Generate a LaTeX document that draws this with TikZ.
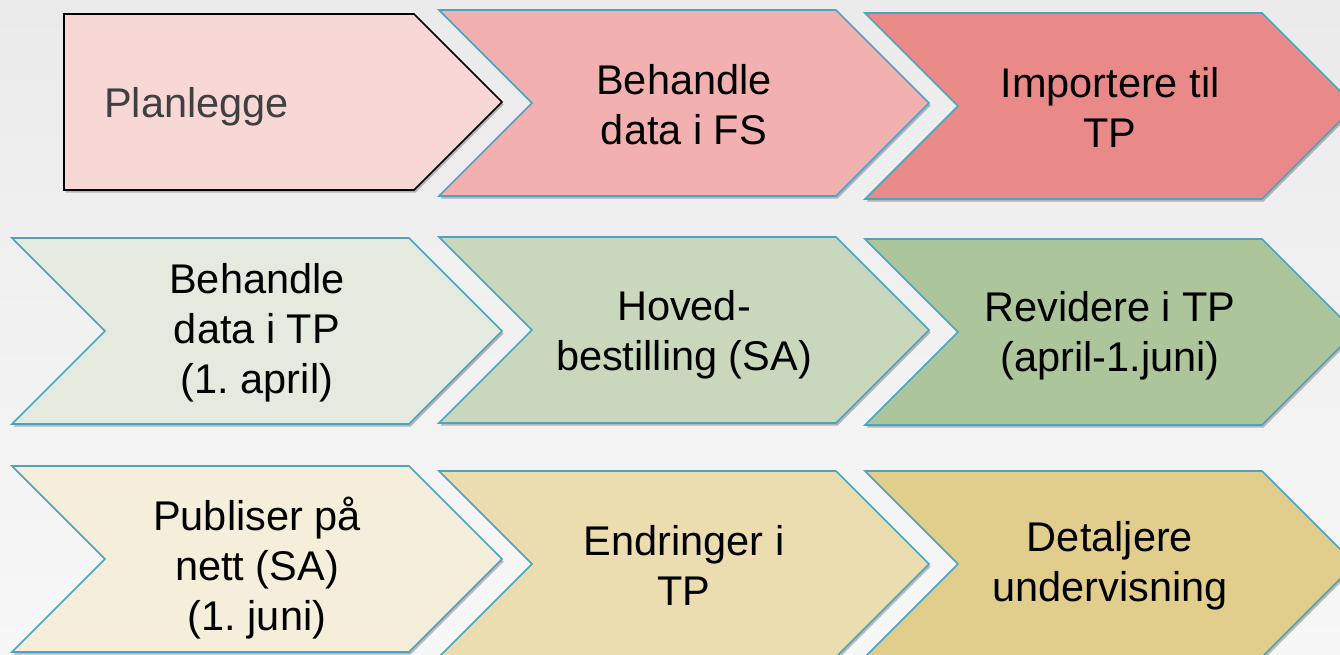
\documentclass[tikz,border=0pt]{standalone}
\usepackage{fontspec}
\setmainfont{Liberation Sans}
\usetikzlibrary{shadows}
\frenchspacing
\definecolor{bgtop}{HTML}{EBEBEB}
\definecolor{bgbot}{HTML}{F7F7F7}
\definecolor{edge}{HTML}{4BA5C1}
\definecolor{plantext}{HTML}{404040}
\definecolor{planfill}{HTML}{F8D8D6}
\definecolor{redA}{HTML}{F2B0B0}
\definecolor{redB}{HTML}{E98A89}
\definecolor{greenA}{HTML}{E4EADE}
\definecolor{greenB}{HTML}{C9D8BC}
\definecolor{greenC}{HTML}{ADC59A}
\definecolor{sandA}{HTML}{F5EEDA}
\definecolor{sandB}{HTML}{EBDDB0}
\definecolor{sandC}{HTML}{E1CD8C}
\begin{document}
\begin{tikzpicture}[x=1pt,y=-1pt,
  chev/.style={draw=edge,line width=1.7pt,line join=miter,
    drop shadow={shadow xshift=1.5pt,shadow yshift=-2.5pt,opacity=.25,fill=black}},
  lbl/.style={align=center,inner sep=0pt,font=\fontsize{41.5}{50}\selectfont}]
\path[use as bounding box] (0,0) rectangle (1340,655);
\clip (0,0) rectangle (1340,655);
\shade[top color=bgtop,bottom color=bgbot] (0,0) rectangle (1340,655);
\draw[chev,fill=planfill,draw=black] (64,14) -- (414,14) -- (502,102) -- (414,190) -- (64,190) -- cycle;
\draw[chev,fill=redA] (439,10) -- (836,10) -- (929,103) -- (836,196) -- (439,196) -- (532,103) -- cycle;
\draw[chev,fill=redB] (865,13) -- (1262,13) -- (1355,106) -- (1262,199) -- (865,199) -- (958,106) -- cycle;
\draw[chev,fill=greenA] (12,238) -- (409,238) -- (502,331) -- (409,424) -- (12,424) -- (105,331) -- cycle;
\draw[chev,fill=greenB] (439,237) -- (836,237) -- (929,330) -- (836,423) -- (439,423) -- (532,330) -- cycle;
\draw[chev,fill=greenC] (865,239) -- (1262,239) -- (1355,332) -- (1262,425) -- (865,425) -- (958,332) -- cycle;
\draw[chev,fill=sandA] (12,466) -- (409,466) -- (502,559) -- (409,652) -- (12,652) -- (105,559) -- cycle;
\draw[chev,fill=sandB] (439,471) -- (836,471) -- (929,564) -- (836,657) -- (439,657) -- (532,564) -- cycle;
\draw[chev,fill=sandC] (865,471) -- (1262,471) -- (1355,564) -- (1262,657) -- (865,657) -- (958,564) -- cycle;
\node[lbl,text=plantext,anchor=base west] (plan) at (104,118) {Planlegge};
\node[lbl] (fsdata) at (684,105) {Behandle\\data i FS};
\node[lbl] (import) at (1110,107) {Importere til\\TP};
\node[lbl] (tpdata) at (257,333) {Behandle\\data i TP\\(1. april)};
\node[lbl] (order) at (684,335) {Hoved-\\bestilling (SA)};
\node[lbl] (revise) at (1110,336) {Revidere i TP\\(april-1.juni)};
\node[lbl] (publish) at (257,568) {Publiser på\\nett (SA)\\(1. juni)};
\node[lbl] (change) at (684,565) {Endringer i\\TP};
\node[lbl] (detail) at (1110,566) {Detaljere\\undervisning};
\end{tikzpicture}
\end{document}
